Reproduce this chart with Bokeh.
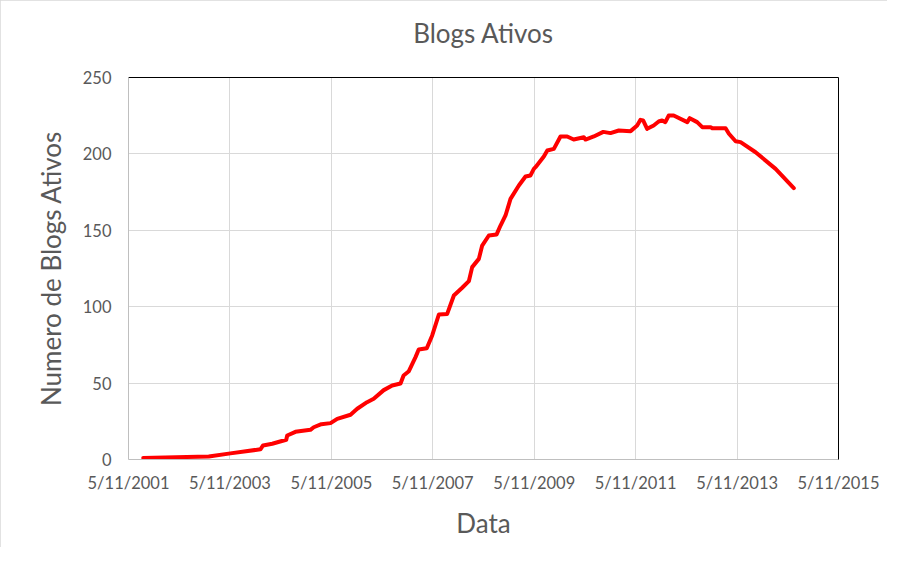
import pandas as pd
from bokeh.plotting import figure
from bokeh.models import Range1d, FixedTicker, LinearAxis, ColumnDataSource
from bokeh.embed import file_html
from bokeh.resources import INLINE

# ---- data ----
dates = [
    "2001-08-25", "2002-12-10", "2003-05-15", "2003-12-17", "2004-01-05",
    "2004-03-11", "2004-06-20", "2004-06-27", "2004-08-25", "2004-12-11",
    "2005-01-04", "2005-02-28", "2005-05-05", "2005-06-22", "2005-09-26",
    "2005-11-13", "2006-01-23", "2006-03-12", "2006-05-23", "2006-07-23",
    "2006-09-21", "2006-10-13", "2006-11-20", "2007-01-07", "2007-01-30",
    "2007-03-29", "2007-05-07", "2007-06-24", "2007-08-23", "2007-10-10",
    "2007-12-09", "2008-01-26", "2008-02-19", "2008-04-07", "2008-05-01",
    "2008-06-18", "2008-08-13", "2008-09-10", "2008-10-16", "2008-11-21",
    "2009-01-20", "2009-03-09", "2009-04-14", "2009-05-08", "2009-05-20",
    "2009-07-19", "2009-08-13", "2009-09-29", "2009-11-16", "2010-01-03",
    "2010-02-19", "2010-05-03", "2010-05-15", "2010-07-14", "2010-09-20",
    "2010-11-11", "2011-01-10", "2011-04-05", "2011-05-22", "2011-06-15",
    "2011-07-04", "2011-08-02", "2011-09-18", "2011-10-24", "2011-11-18",
    "2011-12-11", "2012-01-04", "2012-02-09", "2012-05-17", "2012-06-04",
    "2012-07-27", "2012-09-02", "2012-11-01", "2012-11-13", "2013-02-17",
    "2013-03-13", "2013-04-30", "2013-06-05", "2013-09-21", "2014-02-12",
    "2014-06-23",
]
blogs = [
    1.0, 2.0, 4.0, 6.7, 9.2,
    10.3, 12.9, 15.7, 18.1, 19.4,
    21.1, 23.1, 23.8, 26.6, 29.3,
    33.2, 37.5, 39.7, 45.4, 48.4,
    49.7, 55.0, 57.8, 67.0, 72.0,
    72.8, 81.2, 94.9, 95.3, 107.3,
    112.4, 116.7, 125.9, 131.3, 140.0,
    146.6, 147.3, 153.1, 159.7, 170.6,
    179.3, 185.2, 185.9, 190.2, 191.3,
    198.3, 202.2, 203.3, 211.4, 211.4,
    209.4, 210.9, 209.4, 211.4, 214.4,
    213.6, 215.3, 214.9, 218.6, 222.3,
    221.9, 216.4, 218.6, 221.2, 221.9,
    220.8, 225.1, 225.1, 220.8, 223.4,
    220.8, 217.5, 217.5, 216.8, 216.8,
    213.2, 208.3, 207.7, 201.1, 190.2,
    177.6,
]
tick_dates = ["2001-05-11", "2003-05-11", "2005-05-11", "2007-05-11",
              "2009-05-11", "2011-05-11", "2013-05-11", "2015-05-11"]
tick_labels = ["5/11/2001", "5/11/2003", "5/11/2005", "5/11/2007",
               "5/11/2009", "5/11/2011", "5/11/2013", "5/11/2015"]
y_ticks = [0, 50, 100, 150, 200, 250]

title_text = "Blogs Ativos"
x_label = "Data"
y_label = "Numero de Blogs Ativos"

# ---- style ----
FONT = "Lato"
TEXT = "#595959"
GRID = "#d9d9d9"
AXIS = "#bfbfbf"

def to_ms(d):
    return float(pd.Timestamp(d).value // 10**6)

tick_ms = [to_ms(d) for d in tick_dates]
src = ColumnDataSource(dict(x=pd.to_datetime(dates), y=blogs))

p = figure(width=887, height=547, x_axis_type="datetime",
           output_backend="svg", toolbar_location=None,
           x_range=Range1d(tick_ms[0], tick_ms[-1]),
           y_range=Range1d(y_ticks[0], y_ticks[-1]),
           min_border_left=128, min_border_right=49,
           min_border_top=77, min_border_bottom=88)
p.outline_line_color = None
p.background_fill_color = "white"
p.border_fill_color = "white"
p.styles = {"outline": "2px solid #d9d9d9", "outline-offset": "-2px"}

xa = p.below[0]
xa.ticker = FixedTicker(ticks=tick_ms)
xa.major_label_overrides = {t: l for t, l in zip(tick_ms, tick_labels)}
ya = p.left[0]
ya.ticker = FixedTicker(ticks=y_ticks)

for ax in (xa, ya):
    ax.axis_line_color = AXIS
    ax.axis_line_width = 1
    ax.major_tick_line_color = None
    ax.minor_tick_line_color = None
    ax.major_tick_out = 0
    ax.major_tick_in = 0
    ax.minor_tick_out = 0
    ax.minor_tick_in = 0
    ax.major_label_text_font = FONT
    ax.major_label_text_font_size = "16.5px"
    ax.major_label_text_color = TEXT
    ax.axis_label_text_font = FONT
    ax.axis_label_text_font_size = "26px"
    ax.axis_label_text_font_style = "normal"
    ax.axis_label_text_color = TEXT

xa.axis_label = x_label
xa.major_label_standoff = 13
xa.axis_label_standoff = 11
ya.axis_label = y_label
ya.major_label_standoff = 17
ya.axis_label_standoff = 13

p.xgrid.grid_line_color = GRID
p.ygrid.grid_line_color = GRID
p.xgrid.grid_line_width = 1
p.ygrid.grid_line_width = 1

# black border on top and right of the plot area (Excel style);
# the top one also carries the chart title
for loc in ("above", "right"):
    border = LinearAxis(ticker=FixedTicker(ticks=[]), axis_line_color="black",
                        axis_line_width=1, major_tick_line_color=None,
                        minor_tick_line_color=None, major_label_standoff=0,
                        major_tick_out=0, major_tick_in=0,
                        minor_tick_out=0, minor_tick_in=0)
    if loc == "above":
        border.axis_label = title_text
        border.axis_label_text_font = FONT
        border.axis_label_text_font_size = "26px"
        border.axis_label_text_font_style = "normal"
        border.axis_label_text_color = TEXT
        border.axis_label_standoff = 29
    p.add_layout(border, loc)

p.line("x", "y", source=src, line_color="#ff0000", line_width=4,
       line_join="round", line_cap="round")

open("out.html", "w").write(file_html(p, INLINE))
